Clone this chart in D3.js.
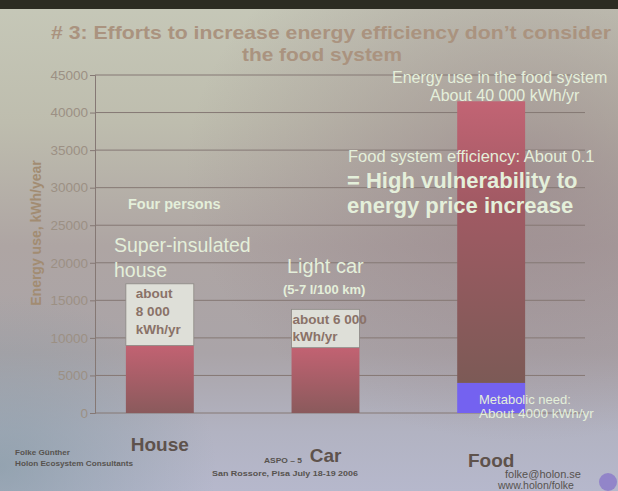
<!DOCTYPE html>
<html><head><meta charset="utf-8">
<script src="https://cdn.jsdelivr.net/npm/d3@7"></script>
<style>html,body{margin:0;padding:0;background:#b8b6ae;}svg{display:block;}</style>
</head><body>
<script>
// ---- data ----
const categories = ["House", "Car", "Food"];
const mainValues = [9000, 8700, 41500];       // red bar tops (kWh/yr)
const metabolicValues = [0, 0, 4000];          // blue bottom segment
const labelBoxTops = [17200, 13800, null];     // white label box tops
const yTicks = [0, 5000, 10000, 15000, 20000, 25000, 30000, 35000, 40000, 45000];

const W = 618, H = 491;
const svg = d3.select("body").append("svg").attr("width", W).attr("height", H)
  .style("font-family", "'Liberation Sans', Arial, sans-serif");
const defs = svg.append("defs");

const bg = defs.append("linearGradient").attr("id", "bg").attr("x1", 0).attr("y1", 0).attr("x2", 0).attr("y2", 1);
[[0, "#c6c8b8"], [0.25, "#bebdae"], [0.5, "#aea5a3"], [0.72, "#aaa4a8"], [0.88, "#b2b3c2"], [1, "#b6b8cc"]]
  .forEach(([o, c]) => bg.append("stop").attr("offset", o).attr("stop-color", c));
const rg = defs.append("radialGradient").attr("id", "rg").attr("cx", 0.85).attr("cy", 0.35).attr("r", 0.55);
rg.append("stop").attr("offset", 0).attr("stop-color", "#8e7880").attr("stop-opacity", 0.55);
rg.append("stop").attr("offset", 1).attr("stop-color", "#8e7880").attr("stop-opacity", 0);
const lg = defs.append("radialGradient").attr("id", "lg").attr("cx", 0.0).attr("cy", 0.95).attr("r", 0.35);
lg.append("stop").attr("offset", 0).attr("stop-color", "#7e96a0").attr("stop-opacity", 0.6);
lg.append("stop").attr("offset", 1).attr("stop-color", "#7e96a0").attr("stop-opacity", 0);
const barG = defs.append("linearGradient").attr("id", "barG").attr("x1", 0).attr("y1", 0).attr("x2", 0).attr("y2", 1);
barG.append("stop").attr("offset", 0).attr("stop-color", "#c26474");
barG.append("stop").attr("offset", 0.35).attr("stop-color", "#a25a64");
barG.append("stop").attr("offset", 1).attr("stop-color", "#7c5a56");
const barS = defs.append("linearGradient").attr("id", "barS").attr("x1", 0).attr("y1", 0).attr("x2", 0).attr("y2", 1);
barS.append("stop").attr("offset", 0).attr("stop-color", "#c26272");
barS.append("stop").attr("offset", 1).attr("stop-color", "#8a5a5c");

svg.append("rect").attr("width", W).attr("height", H).attr("fill", "url(#bg)");
svg.append("rect").attr("width", W).attr("height", H).attr("fill", "url(#rg)");
svg.append("rect").attr("width", W).attr("height", H).attr("fill", "url(#lg)");
svg.append("rect").attr("width", W).attr("height", 9).attr("fill", "#2c2c22");

// ---- scales ----
const y = d3.scaleLinear().domain([0, 45000]).range([413, 75]);
const x = d3.scaleBand().domain(categories).range([77, 574]).paddingInner(0.59).paddingOuter(0.295);
const axisX = 95, gridEnd = 585;

// gridlines
svg.append("g").selectAll("line").data(yTicks).join("line")
  .attr("x1", axisX).attr("x2", gridEnd)
  .attr("y1", d => y(d)).attr("y2", d => y(d))
  .attr("stroke", "#857874").attr("stroke-width", 1);

// y axis
const yAxis = d3.axisLeft(y).tickValues(yTicks).tickFormat(d3.format("d")).tickSize(5).tickPadding(2);
const ga = svg.append("g").attr("transform", `translate(${axisX},0)`).call(yAxis);
ga.select(".domain").attr("stroke", "#857874");
ga.selectAll(".tick line").attr("stroke", "#857874");
ga.selectAll(".tick text").attr("fill", "#9c9084").style("font-size", "13.5px");

svg.append("text").attr("transform", "translate(41,233) rotate(-90)")
  .attr("text-anchor", "middle").attr("fill", "#a28c72")
  .style("font-size", "14px").style("font-weight", "bold").text("Energy use, kWh/year");

// bars
const rows = categories.map((c, i) => ({ c, v: mainValues[i], m: metabolicValues[i], box: labelBoxTops[i] }));
svg.append("g").selectAll("rect").data(rows).join("rect")
  .attr("x", d => x(d.c)).attr("width", x.bandwidth())
  .attr("y", d => y(d.v)).attr("height", d => y(d.m) - y(d.v))
  .attr("fill", d => d.m > 0 ? "url(#barG)" : "url(#barS)");
svg.append("g").selectAll("rect").data(rows.filter(d => d.m > 0)).join("rect")
  .attr("x", d => x(d.c)).attr("width", x.bandwidth())
  .attr("y", d => y(d.m)).attr("height", d => y(0) - y(d.m))
  .attr("fill", "#7462f0");
svg.append("g").selectAll("rect").data(rows.filter(d => d.box)).join("rect")
  .attr("x", d => x(d.c)).attr("width", x.bandwidth())
  .attr("y", d => y(d.box)).attr("height", d => y(d.v) - y(d.box))
  .attr("fill", "#dedfd8").attr("stroke", "#8c8884").attr("stroke-width", 0.8);

// box texts
const boxText = (lines, cx, y0, dy) => {
  const t = svg.append("text").attr("fill", "#8a7268").style("font-size", "13.5px").style("font-weight", "bold");
  lines.forEach((l, i) => t.append("tspan").attr("x", cx).attr("y", y0 + i * dy).text(l));
};
boxText(["about", "8 000", "kWh/yr"], x("House") + 10, y(labelBoxTops[0]) + 14, 18);
boxText(["about 6 000", "kWh/yr"], x("Car") + 1, y(labelBoxTops[1]) + 15, 17);

// category labels
const catDy = { House: 451, Car: 462, Food: 467 };
svg.append("g").selectAll("text").data(categories).join("text")
  .attr("x", d => x(d) + x.bandwidth() / 2).attr("y", d => catDy[d])
  .attr("text-anchor", "middle").attr("fill", "#5e524c")
  .style("font-size", "19px").style("font-weight", "bold").text(d => d);

// title
const title = svg.append("text").attr("text-anchor", "middle").attr("fill", "#aa937f")
  .style("font-size", "18px").style("font-weight", "bold");
title.append("tspan").attr("x", 331).attr("y", 39).attr("textLength", 560).attr("lengthAdjust", "spacingAndGlyphs")
  .text("# 3: Efforts to increase energy efficiency don’t consider");
title.append("tspan").attr("x", 322).attr("y", 61).attr("textLength", 160).attr("lengthAdjust", "spacingAndGlyphs")
  .text("the food system");

// annotations
const note = (txt, x0, y0, size, bold) => svg.append("text").attr("x", x0).attr("y", y0)
  .attr("fill", "#e4efda")
  .style("font-size", size + "px").style("font-weight", bold ? "bold" : "normal").text(txt);
note("Four persons", 128, 209, 14.5, true);
note("Super-insulated", 114, 252, 19.5, false);
note("house", 114, 277, 19.5, false);
note("Light car", 287, 273, 20, false);
note("(5-7 l/100 km)", 283, 294, 13, true);
note("Energy use in the food system", 392, 83, 16, false);
note("About 40 000 kWh/yr", 430, 101, 16, false);
note("Food system efficiency: About 0.1", 348, 162, 16.5, false);
note("= High vulnerability to", 347, 188, 22, true);
note("energy price increase", 347, 213, 22, true);
note("Metabolic need:", 479, 404, 13, false);
note("About 4000 kWh/yr", 479, 418, 13.5, false);

// footer
const foot = (txt, x0, y0, size, bold, len) => {
  const t = svg.append("text").attr("x", x0).attr("y", y0)
    .attr("fill", "#57534f").style("font-size", size + "px").style("font-weight", bold ? "bold" : "normal").text(txt);
  if (len) t.attr("textLength", len).attr("lengthAdjust", "spacingAndGlyphs");
  return t;
};
foot("Folke Günther", 15, 455, 8, true, 55);
foot("Holon Ecosystem Consultants", 15, 466, 8, true, 118);
foot("ASPO – 5", 264, 463, 7.5, true, 38);
foot("San Rossore, Pisa July 18-19 2006", 212, 476, 8, true, 146);
foot("folke@holon.se", 505, 478, 11, false);
foot("www.holon/folke", 498, 489, 10.5, false);
svg.append("circle").attr("cx", 608).attr("cy", 482).attr("r", 9).attr("fill", "#8a78c8").attr("opacity", 0.8);
</script>
</body></html>
